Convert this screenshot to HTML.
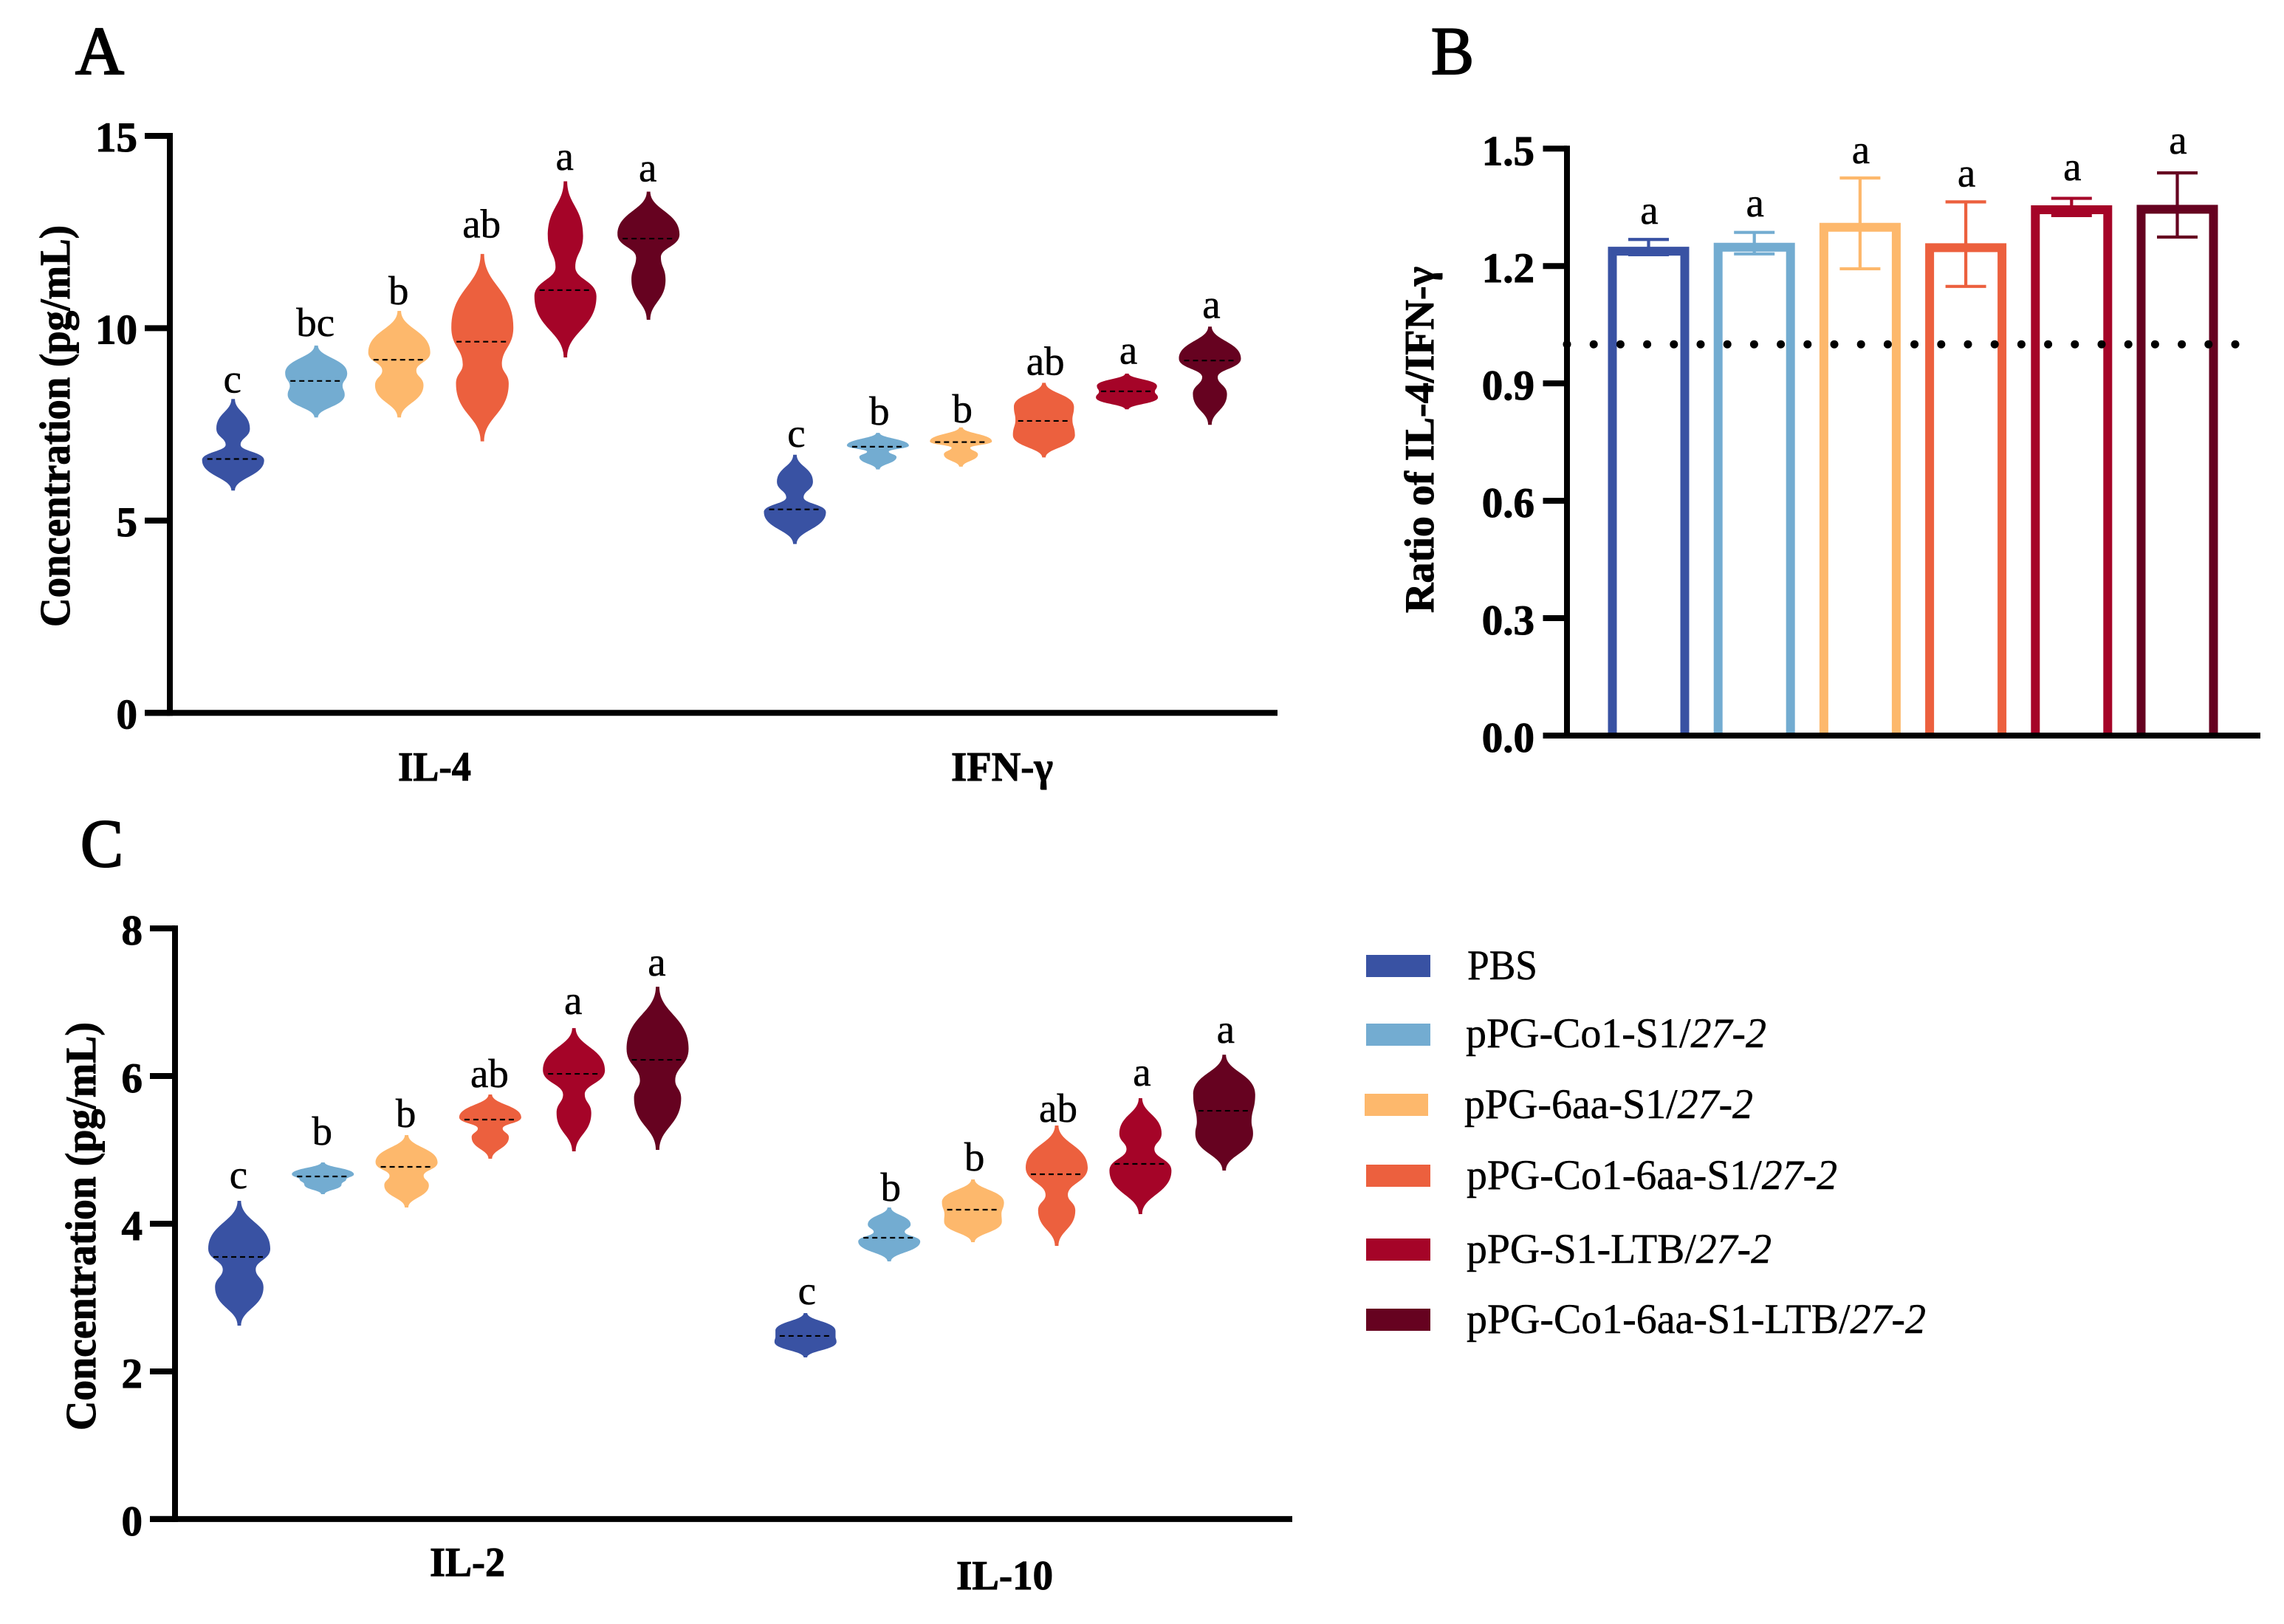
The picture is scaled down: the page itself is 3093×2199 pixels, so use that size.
<!DOCTYPE html>
<html lang="en">
<head>
<meta charset="utf-8">
<title>Cytokine violin plots</title>
<style>
html,body{margin:0;padding:0;background:#fff;}
svg{display:block;}
text{font-family:"Liberation Serif","Noto Serif CJK SC",serif;fill:#000;stroke:#000;stroke-width:0.5;}
.bold{font-weight:bold;stroke-width:1;}
.panel-letter{stroke-width:2.2;}
</style>
</head>
<body>
<svg id="figure" xmlns="http://www.w3.org/2000/svg" width="3093" height="2199" viewBox="0 0 3093 2199">
  <rect x="0" y="0" width="3093" height="2199" fill="#ffffff"/>

  <text class="panel-letter" x="102" y="100" font-size="92" textLength="66" lengthAdjust="spacingAndGlyphs">A</text>
  <text class="panel-letter" x="1938" y="100" font-size="92" textLength="58" lengthAdjust="spacingAndGlyphs">B</text>
  <text class="panel-letter" x="109" y="1173" font-size="92" textLength="58" lengthAdjust="spacingAndGlyphs">C</text>

  <text class="bold" transform="translate(94,849) rotate(-90)" font-size="58" textLength="544" lengthAdjust="spacingAndGlyphs">Concentration (pg/mL)</text>
  <text class="bold" transform="translate(1941,830) rotate(-90)" font-size="56" textLength="469" lengthAdjust="spacingAndGlyphs">Ratio of IL-4/IFN-γ</text>
  <text class="bold" transform="translate(129,1937) rotate(-90)" font-size="58" textLength="553" lengthAdjust="spacingAndGlyphs">Concentration (pg/mL)</text>

  <text class="bold" x="539" y="1057" font-size="56" textLength="99" lengthAdjust="spacingAndGlyphs">IL-4</text>
  <text class="bold" x="1288" y="1057" font-size="56" textLength="138" lengthAdjust="spacingAndGlyphs">IFN-γ</text>
  <text class="bold" x="582" y="2134" font-size="56" textLength="102" lengthAdjust="spacingAndGlyphs">IL-2</text>
  <text class="bold" x="1295" y="2152" font-size="56" textLength="131" lengthAdjust="spacingAndGlyphs">IL-10</text>

  <g id="panel-a"></g>
  <g id="panel-b"></g>
  <g id="panel-c"></g>

  <g>
    <g>
      <rect x="1850" y="1293" width="87" height="30" fill="#3952A3"/>
      <text x="1987" y="1326" font-size="57" textLength="95" lengthAdjust="spacingAndGlyphs">PBS</text>
    </g>
    <g>
      <rect x="1850" y="1386" width="87" height="30" fill="#73ACD1"/>
      <text x="1985" y="1418" font-size="57" textLength="407" lengthAdjust="spacingAndGlyphs">pPG-Co1-S1/<tspan font-style="italic">27-2</tspan></text>
    </g>
    <g>
      <rect x="1848" y="1481" width="86" height="30" fill="#FDB86C"/>
      <text x="1983" y="1514" font-size="57" textLength="391" lengthAdjust="spacingAndGlyphs">pPG-6aa-S1/<tspan font-style="italic">27-2</tspan></text>
    </g>
    <g>
      <rect x="1850" y="1577" width="87" height="30" fill="#EC603E"/>
      <text x="1986" y="1610" font-size="57" textLength="502" lengthAdjust="spacingAndGlyphs">pPG-Co1-6aa-S1/<tspan font-style="italic">27-2</tspan></text>
    </g>
    <g>
      <rect x="1850" y="1677" width="87" height="30" fill="#A50428"/>
      <text x="1986" y="1710" font-size="57" textLength="413" lengthAdjust="spacingAndGlyphs">pPG-S1-LTB/<tspan font-style="italic">27-2</tspan></text>
    </g>
    <g>
      <rect x="1850" y="1772" width="87" height="30" fill="#660220"/>
      <text x="1986" y="1805" font-size="57" textLength="622" lengthAdjust="spacingAndGlyphs">pPG-Co1-6aa-S1-LTB/<tspan font-style="italic">27-2</tspan></text>
    </g>
  </g>
</svg>

<script>
// ---------- shared categories ----------
const seriesNames = ["pbs", "co1-s1", "6aa-s1", "co1-6aa-s1", "s1-ltb", "co1-6aa-s1-ltb"];
const seriesColors = ["#3952A3", "#73ACD1", "#FDB86C", "#EC603E", "#A50428", "#660220"];

// ---------- axis ticks ----------
const panelATicks = [0, 5, 10, 15];
const panelATickLabels = ["0", "5", "10", "15"];
const panelBTicks = [0, 0.3, 0.6, 0.9, 1.2, 1.5];
const panelBTickLabels = ["0.0", "0.3", "0.6", "0.9", "1.2", "1.5"];
const panelCTicks = [0, 2, 4, 6, 8];
const panelCTickLabels = ["0", "2", "4", "6", "8"];

// ---------- IL-4 violins (pg/mL; densities 0..1) ----------
const il4Max = [8.16, 9.55, 10.45, 11.93, 13.82, 13.55];
const il4UpperLobe = [7.39, 8.83, 9.37, 10.02, 12.40, 12.44];
const il4UpperDensity = [0.54, 1.0, 1.0, 1.0, 0.57, 1.0];
const il4Neck = [6.97, 8.50, 8.90, 9.06, 11.59, 11.84];
const il4NeckDensity = [0.24, 0.85, 0.55, 0.63, 0.32, 0.40];
const il4LowerLobe = [6.57, 8.27, 8.52, 8.56, 10.83, 11.26];
const il4LowerDensity = [1.0, 0.92, 0.78, 0.85, 1.0, 0.55];
const il4Min = [5.78, 7.68, 7.68, 7.06, 9.24, 10.22];
const il4Median = [6.60, 8.63, 9.18, 9.65, 10.99, 12.33];
const il4Letters = ["c", "bc", "b", "ab", "a", "a"];
const il4LetterHeight = [8.33, 9.80, 10.62, 12.36, 14.12, 13.82];

// ---------- IFN-gamma violins ----------
const ifnMax = [6.71, 7.28, 7.42, 8.58, 8.82, 10.04];
const ifnUpperLobe = [6.01, 6.95, 7.06, 7.96, 8.50, 9.21];
const ifnUpperDensity = [0.58, 1.0, 1.0, 0.97, 0.97, 1.0];
const ifnNeck = [5.60, 6.79, 6.89, 7.62, 8.35, 8.73];
const ifnNeckDensity = [0.28, 0.35, 0.30, 0.92, 0.90, 0.25];
const ifnLowerLobe = [5.22, 6.65, 6.72, 7.22, 8.20, 8.29];
const ifnLowerDensity = [1.0, 0.60, 0.55, 1.0, 1.0, 0.55];
const ifnMin = [4.39, 6.33, 6.40, 6.64, 7.89, 7.49];
const ifnMedian = [5.29, 6.92, 7.04, 7.59, 8.36, 9.16];
const ifnLetters = ["c", "b", "b", "ab", "a", "a"];
const ifnLetterHeight = [6.92, 7.49, 7.55, 8.79, 9.08, 10.27];

// ---------- IL-2 violins ----------
const il2Max = [4.31, 4.83, 5.20, 5.75, 6.65, 7.21];
const il2UpperLobe = [3.66, 4.67, 4.83, 5.44, 6.08, 6.37];
const il2UpperDensity = [1.0, 1.0, 1.0, 1.0, 1.0, 1.0];
const il2Neck = [3.38, 4.60, 4.65, 5.29, 5.75, 5.94];
const il2NeckDensity = [0.53, 0.75, 0.55, 0.40, 0.35, 0.57];
const il2LowerLobe = [3.14, 4.53, 4.52, 5.17, 5.50, 5.70];
const il2LowerDensity = [0.78, 0.60, 0.72, 0.60, 0.56, 0.76];
const il2Min = [2.62, 4.40, 4.22, 4.88, 4.98, 5.00];
const il2Median = [3.55, 4.64, 4.77, 5.41, 6.03, 6.22];
const il2Letters = ["c", "b", "b", "ab", "a", "a"];
const il2LetterHeight = [4.48, 5.07, 5.31, 5.85, 6.84, 7.36];

// ---------- IL-10 violins ----------
const il10Max = [2.79, 4.22, 4.60, 5.33, 5.70, 6.29];
const il10UpperLobe = [2.55, 3.99, 4.29, 4.76, 5.22, 5.75];
const il10UpperDensity = [0.97, 0.69, 1.0, 1.0, 0.68, 1.0];
const il10Neck = [2.47, 3.89, 4.13, 4.39, 5.01, 5.38];
const il10NeckDensity = [0.97, 0.50, 0.92, 0.36, 0.45, 0.88];
const il10LowerLobe = [2.40, 3.76, 4.03, 4.18, 4.72, 5.22];
const il10LowerDensity = [1.0, 1.0, 0.93, 0.60, 1.0, 0.93];
const il10Min = [2.19, 3.49, 3.75, 3.70, 4.13, 4.72];
const il10Median = [2.48, 3.81, 4.19, 4.67, 4.81, 5.53];
const il10Letters = ["c", "b", "b", "ab", "a", "a"];
const il10LetterHeight = [2.91, 4.31, 4.72, 5.38, 5.87, 6.45];

// ---------- Panel B bars ----------
const ratioMeans = [1.238, 1.248, 1.299, 1.247, 1.344, 1.345];
const ratioUpper = [1.268, 1.286, 1.425, 1.364, 1.373, 1.438];
const ratioLower = [1.229, 1.231, 1.193, 1.148, 1.329, 1.274];
const ratioLetters = ["a", "a", "a", "a", "a", "a"];
const ratioLetterHeight = [1.308, 1.327, 1.463, 1.403, 1.419, 1.487];
const ratioReference = [1.0];

// ---------- helpers ----------
const NS = "http://www.w3.org/2000/svg";
function make(parent, tag, attrs, content) {
  const el = document.createElementNS(NS, tag);
  for (const k in attrs) el.setAttribute(k, attrs[k]);
  if (content !== undefined) el.textContent = content;
  parent.appendChild(el);
  return el;
}
function linear(v0, p0, v1, p1) {
  return function (v) { return p0 + (v - v0) * (p1 - p0) / (v1 - v0); };
}

const yA = linear(0, 965.3, 15, 184);
const yB = linear(0, 996, 1.5, 201.3);
const yC = linear(0, 2056.9, 8, 1257.1);

function drawAxes(parent, prefix, axisX, tickLeft, right, yScale, ticks, labels, labelRight, labelDrop) {
  const top = Math.min.apply(null, ticks.map(yScale));
  const bottom = Math.max.apply(null, ticks.map(yScale));
  const yAxis = make(parent, "line", {x1: axisX, x2: axisX, y1: top - 4, y2: bottom + 4, stroke: "#000", "stroke-width": 8});
  
  
  const xAxis = make(parent, "line", {x1: tickLeft, x2: right, y1: bottom, y2: bottom, stroke: "#000", "stroke-width": 8});
  
  
  ticks.forEach(function (t, i) {
    const y = yScale(t);
    const tick = make(parent, "line", {x1: tickLeft, x2: axisX, y1: y, y2: y, stroke: "#000", "stroke-width": 8});
    
    
    const label = make(parent, "text", {x: labelRight, y: y + labelDrop, "font-size": 57, "text-anchor": "end", "class": "bold"}, labels[i]);
    
    
  });
}

function violinPath(cx, nodes) {
  // nodes: [yPixel, halfWidthPixel, tension] from top to bottom
  function seg(a, b, sign) {
    const dy = b[0] - a[0];
    return "C" + (cx + sign * a[1]).toFixed(1) + " " + (a[0] + a[2] * dy).toFixed(1) + " " +
      (cx + sign * b[1]).toFixed(1) + " " + (b[0] - b[2] * dy).toFixed(1) + " " +
      (cx + sign * b[1]).toFixed(1) + " " + b[0].toFixed(1);
  }
  let d = "M" + (cx + nodes[0][1]).toFixed(1) + " " + nodes[0][0].toFixed(1);
  for (let i = 0; i < nodes.length - 1; i++) d += seg(nodes[i], nodes[i + 1], 1);
  d += "L" + (cx - nodes[nodes.length - 1][1]).toFixed(1) + " " + nodes[nodes.length - 1][0].toFixed(1);
  for (let i = nodes.length - 1; i > 0; i--) d += seg(nodes[i], nodes[i - 1], -1);
  return d + "Z";
}

function drawViolinGroup(parent, groupName, yScale, startX, step, letterShift, maxV, upV, upD, neckV, neckD, lowV, lowD, minV, medV, letters, letterV) {
  const halfWidth = 42;
  const tail = 2.4;
  maxV.forEach(function (_, i) {
    const cx = startX + i * step;
    const nodes = [
      [yScale(maxV[i]), tail, 0.42],
      [yScale(upV[i]), upD[i] * halfWidth, 0.52],
      [yScale(neckV[i]), neckD[i] * halfWidth, 0.42],
      [yScale(lowV[i]), lowD[i] * halfWidth, 0.52],
      [yScale(minV[i]), tail, 0.42]
    ];
    const violin = make(parent, "path", {d: violinPath(cx, nodes), fill: seriesColors[i]});
    
    
    const my = yScale(medV[i]);
    const median = make(parent, "line", {x1: cx - 35, x2: cx + 35, y1: my, y2: my, stroke: "#000", "stroke-width": 2.2, "stroke-dasharray": "7 5"});
    
    
    const letter = make(parent, "text", {x: cx + letterShift, y: yScale(letterV[i]), "font-size": 55, "text-anchor": "middle"}, letters[i]);
    
    
  });
}

// ---------- Panel A ----------
const panelA = document.getElementById("panel-a");
drawViolinGroup(panelA, "il-4", yA, 315.7, 112.5, -1, il4Max, il4UpperLobe, il4UpperDensity, il4Neck, il4NeckDensity, il4LowerLobe, il4LowerDensity, il4Min, il4Median, il4Letters, il4LetterHeight);
drawViolinGroup(panelA, "ifn-gamma", yA, 1076.5, 112.4, 2, ifnMax, ifnUpperLobe, ifnUpperDensity, ifnNeck, ifnNeckDensity, ifnLowerLobe, ifnLowerDensity, ifnMin, ifnMedian, ifnLetters, ifnLetterHeight);
drawAxes(panelA, "panel-a", 230, 196, 1730, yA, panelATicks, panelATickLabels, 186, 21);

// ---------- Panel C ----------
const panelC = document.getElementById("panel-c");
drawViolinGroup(panelC, "il-2", yC, 324, 113.3, -1, il2Max, il2UpperLobe, il2UpperDensity, il2Neck, il2NeckDensity, il2LowerLobe, il2LowerDensity, il2Min, il2Median, il2Letters, il2LetterHeight);
drawViolinGroup(panelC, "il-10", yC, 1090.8, 113.4, 2, il10Max, il10UpperLobe, il10UpperDensity, il10Neck, il10NeckDensity, il10LowerLobe, il10LowerDensity, il10Min, il10Median, il10Letters, il10LetterHeight);
drawAxes(panelC, "panel-c", 237, 203, 1750, yC, panelCTicks, panelCTickLabels, 193, 22);

// ---------- Panel B ----------
const panelB = document.getElementById("panel-b");
ratioMeans.forEach(function (v, i) {
  const cx = 2232.5 + i * 143.2;
  const half = 49;
  const bar = make(panelB, "path", {
    d: "M" + (cx - half) + " " + yB(0) + "V" + yB(v) + "H" + (cx + half) + "V" + yB(0),
    fill: "none", stroke: seriesColors[i], "stroke-width": 12
  });
  
  
  const err = make(panelB, "path", {
    d: "M" + cx + " " + yB(ratioLower[i]) + "V" + yB(ratioUpper[i]) +
       "M" + (cx - 27.5) + " " + yB(ratioUpper[i]) + "h55" +
       "M" + (cx - 27.5) + " " + yB(ratioLower[i]) + "h55",
    fill: "none", stroke: seriesColors[i], "stroke-width": 4.2
  });
  
  
  const letter = make(panelB, "text", {x: cx + 1, y: yB(ratioLetterHeight[i]), "font-size": 55, "text-anchor": "middle"}, ratioLetters[i]);
  
  
});
const refLine = make(panelB, "line", {x1: 2122, x2: 3030, y1: yB(ratioReference[0]), y2: yB(ratioReference[0]), stroke: "#000", "stroke-width": 11, "stroke-linecap": "round", "stroke-dasharray": "0 36.2"});


drawAxes(panelB, "panel-b", 2122, 2089.5, 3061, yB, panelBTicks, panelBTickLabels, 2078, 22);
</script>
</body>
</html>
